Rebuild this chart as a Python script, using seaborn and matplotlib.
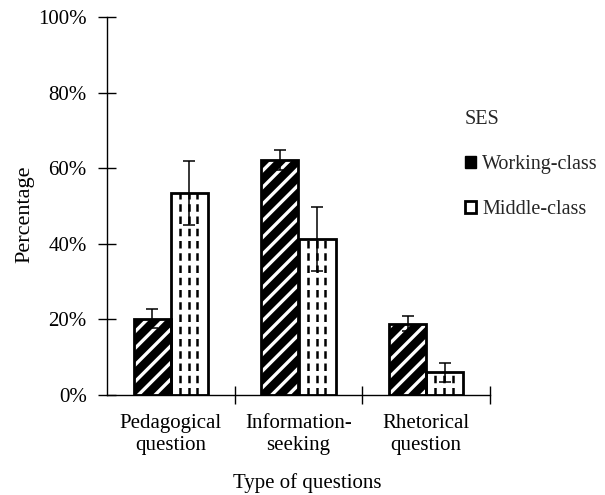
import numpy as np
import pandas as pd
import matplotlib
matplotlib.use("Agg")
import matplotlib.pyplot as plt
import seaborn as sns
from matplotlib.patches import Rectangle, Patch
from matplotlib.ticker import FuncFormatter, FixedLocator

categories = ["Pedagogical\nquestion", "Information-\nseeking", "Rhetorical\nquestion"]
ses_levels = ["Working-class", "Middle-class"]
working_vals = [20.2, 62.2, 18.8]
working_err = [2.5, 2.6, 2.0]
middle_vals = [53.5, 41.3, 6.0]
middle_err = [8.4, 8.4, 2.5]
y_ticks = [0, 20, 40, 60, 80, 100]

sns.set_style("ticks")
plt.rcParams["font.family"] = ["Liberation Serif", "DejaVu Serif"]
plt.rcParams["hatch.linewidth"] = 2.4
FS = 15
LFS = 14.5

df = pd.DataFrame({
    "cat": categories * 2,
    "SES": [ses_levels[0]] * 3 + [ses_levels[1]] * 3,
    "val": working_vals + middle_vals,
})

fig = plt.figure(figsize=(6.05, 4.95), dpi=100)
ax = fig.add_axes([107 / 605, 1 - 395 / 495, 383 / 605, 378 / 495])

sns.barplot(data=df, x="cat", y="val", hue="SES", hue_order=ses_levels,
            order=categories, errorbar=None, width=0.58, gap=0,
            palette=["black", "white"], legend=False, ax=ax)

cont_w, cont_m = ax.containers[0], ax.containers[1]

for p in cont_w:
    p.set_facecolor("black")
    p.set_edgecolor("white")
    p.set_hatch("//")
    p.set_linewidth(0)
    ax.add_patch(Rectangle(p.get_xy(), p.get_width(), p.get_height(),
                           fill=False, ec="black", lw=2, zorder=3))

for p in cont_m:
    p.set_facecolor("white")
    p.set_edgecolor("black")
    p.set_linewidth(2)
    x0, w, h = p.get_x(), p.get_width(), p.get_height()
    xs = [x0 + w * f for f in (0.25, 0.49, 0.72)]
    ax.vlines(xs, 0, h, colors="black", linewidth=1.8,
              linestyles=(0, (3.0, 1.9)), zorder=2.5)

cw = [p.get_x() + p.get_width() / 2 for p in cont_w]
cm = [p.get_x() + p.get_width() / 2 for p in cont_m]
ax.errorbar(cw, working_vals, yerr=working_err, fmt="none", ecolor="black",
            elinewidth=1.1, capsize=4, capthick=1.1, zorder=5)
ax.errorbar(cm, middle_vals, yerr=middle_err, fmt="none", ecolor="black",
            elinewidth=1.1, capsize=4, capthick=1.1, zorder=5)

ax.set_xlim(-0.5, 2.5)
ax.set_ylim(0, 100)
ax.set_yticks(y_ticks)
ax.yaxis.set_major_formatter(FuncFormatter(lambda v, _: f"{v:.0f}%"))
ax.tick_params(axis="y", direction="inout", length=13, width=1, color="black",
               labelsize=FS, labelcolor="black", pad=8)
ax.tick_params(axis="x", which="major", length=0, labelsize=FS,
               labelcolor="black", pad=14)
ax.xaxis.set_minor_locator(FixedLocator([0.5, 1.5, 2.5]))
ax.tick_params(axis="x", which="minor", direction="inout", length=13,
               width=1, color="black")

for s in ["top", "right"]:
    ax.spines[s].set_visible(False)
for s in ["left", "bottom"]:
    ax.spines[s].set_color("black")
    ax.spines[s].set_linewidth(1)

ax.set_xlabel("Type of questions", fontsize=FS, color="black", labelpad=13)
ax.xaxis.label.set_x((307 - 107) / 383)
ax.set_ylabel("Percentage", fontsize=16, color="black", labelpad=3)
ax.yaxis.label.set_y((395 - 214) / 378)

handles = [Patch(facecolor="black", edgecolor="black", linewidth=1),
           Patch(facecolor="white", edgecolor="black", linewidth=2)]
fig.legend(handles, ses_levels, title="SES", loc="upper left",
           bbox_to_anchor=(465 / 605, 1 - 110 / 495), frameon=False,
           fontsize=LFS, title_fontsize=LFS, borderpad=0, borderaxespad=0,
           handlelength=0.55, handleheight=0.55, handletextpad=0.3,
           labelspacing=1.3, alignment="left")

fig.savefig("out.png", dpi=100)
